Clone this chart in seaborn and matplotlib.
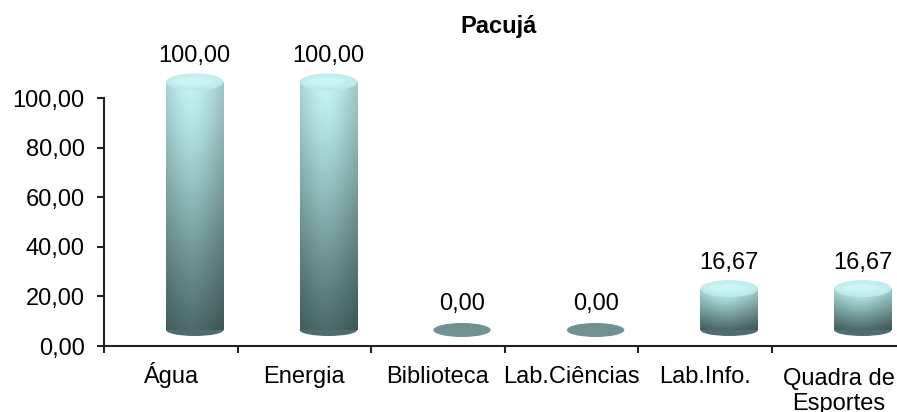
import numpy as np
import matplotlib
matplotlib.use("Agg")
import matplotlib.pyplot as plt
import matplotlib.transforms as mtransforms
from matplotlib.patches import Ellipse
from matplotlib.colors import LinearSegmentedColormap
import seaborn as sns
import pandas as pd

# ---- data ----
categories = ["Água", "Energia", "Biblioteca", "Lab.Ciências", "Lab.Info.", "Quadra de\nEsportes"]
values = [100.00, 100.00, 0.00, 0.00, 16.67, 16.67]
value_labels = ["100,00", "100,00", "0,00", "0,00", "16,67", "16,67"]
yticks = [0, 20, 40, 60, 80, 100]
ytick_labels = ["0,00", "20,00", "40,00", "60,00", "80,00", "100,00"]
title = "Pacujá"

sns.set_theme(style="white")
plt.rcParams["font.family"] = ["Liberation Sans", "DejaVu Sans"]

W, H = 897, 412
fig = plt.figure(figsize=(W / 100, H / 100), dpi=100)
left_px, bottom_px, top100_px = 104, 346, 98
ppu = (bottom_px - top100_px) / 100.0
ymax = 138
cat_w = 133.6
ax = fig.add_axes([left_px / W, (H - bottom_px) / H, 6 * cat_w / W, ymax * ppu / H])

df = pd.DataFrame({"cat": categories, "val": values})
bar_w = 0.43
sns.barplot(data=df, x="cat", y="val", width=bar_w, color="#9cc8c8",
            edgecolor="none", linewidth=0, ax=ax, zorder=3)

ax.set_xlim(-0.5, 5.5)
ax.set_ylim(0, ymax)

# 3D depth offset (display-space shift right & up)
dx_px, dy_px = 24, 16
offset = mtransforms.ScaledTranslation(dx_px / 100, dy_px / 100, fig.dpi_scale_trans)
tr = ax.transData + offset

vcmap = LinearSegmentedColormap.from_list(
    "cyl", [(0.0, "#4d6b6c"), (0.3, "#719696"), (0.6, "#98c5c5"), (0.85, "#b8e8e9"), (1.0, "#c8f6f7")])
nrow, ncol = 200, 80
tv = np.linspace(0, 1, nrow)[:, None]
xs = np.linspace(0, 1, ncol)[None, :]
hshade = 0.90 + 0.10 * np.exp(-((xs - 0.45) / 0.32) ** 2) - 0.10 * xs ** 4 - 0.06 * (1 - xs) ** 6
rgb = vcmap(np.repeat(tv, ncol, axis=1))[..., :3] * hshade[..., None]
rgb = np.clip(rgb, 0, 1)

bot_h = 12 / ppu
top_h = 17 / ppu
disk_h = 14 / ppu
for i, patch in enumerate(ax.patches):
    patch.set_transform(tr)
    x0 = patch.get_x()
    w = patch.get_width()
    h = patch.get_height()
    xc = x0 + w / 2
    if h <= 0:
        ax.add_patch(Ellipse((xc, 0), w, disk_h, transform=tr, facecolor="#6f9192",
                             edgecolor="none", zorder=3))
        continue
    ax.add_patch(Ellipse((xc, 0), w, bot_h, transform=tr, facecolor="#4f6d6e",
                         edgecolor="none", zorder=2.5))
    im = ax.imshow(rgb, extent=[x0, x0 + w, 0, h], origin="lower", aspect="auto",
                   transform=tr, zorder=3.2, interpolation="bilinear")
    im.set_clip_path(patch)
    ax.add_patch(Ellipse((xc, h), w, top_h, transform=tr, facecolor="#b9e9ea",
                         edgecolor="none", zorder=4))
    ax.add_patch(Ellipse((xc, h + top_h * 0.06), w * 0.92, top_h * 0.82,
                         transform=tr, facecolor="#c1eff0", edgecolor="none", zorder=4.1))
    ax.add_patch(Ellipse((xc - w * 0.03, h + top_h * 0.05), w * 0.65, top_h * 0.45,
                         transform=tr, facecolor="#c9f5f5", edgecolor="none", zorder=4.2))

ax.set_xlim(-0.5, 5.5)
ax.set_ylim(0, ymax)

fs = 17
for i, (v, lab) in enumerate(zip(values, value_labels)):
    ax.annotate(lab, (i, v), xytext=(dx_px * 0.72, (dy_px + 26) * 0.72),
                textcoords="offset points", ha="center", va="center",
                fontsize=fs, color="#000000", zorder=6)

ax.set_yticks(yticks)
ax.set_yticklabels(ytick_labels)
ax.set_xticks(np.arange(-0.5, 6.0, 1.0), minor=False)
ax.set_xticklabels([])
ax.set_xticks(np.arange(0, 6), minor=True)
ax.set_xticklabels(categories, minor=True, linespacing=1.15)
ax.tick_params(axis="x", which="major", length=5, width=1.5, color="#222222", direction="out", bottom=True)
ax.tick_params(axis="x", which="minor", length=0, pad=37 * 0.72, labelsize=fs, labelcolor="#000000")
line_shift = mtransforms.ScaledTranslation(0, -0.27, fig.dpi_scale_trans)
for t in ax.get_xticklabels(minor=True):
    t.set_verticalalignment("baseline")
    nlines = t.get_text().count("\n")
    if nlines:
        t.set_transform(t.get_transform() + mtransforms.ScaledTranslation(0, -0.27 * nlines, fig.dpi_scale_trans))
ax.tick_params(axis="y", length=5, width=1.5, color="#222222", pad=9, labelsize=fs,
               labelcolor="#000000", left=True, direction="out")
ax.set_xlabel("")
ax.set_ylabel("")

for s in ["top", "right"]:
    ax.spines[s].set_visible(False)
for s in ["left", "bottom"]:
    ax.spines[s].set_color("#222222")
    ax.spines[s].set_linewidth(1.5)
ax.spines["left"].set_bounds(0, 100)
ax.set_facecolor("white")
ax.grid(False)

fig.text(499 / W, 1 - 26 / H, title, ha="center", va="center",
         fontsize=17, fontweight="bold", color="#000000")

fig.savefig("out.png", dpi=100, facecolor="white")
